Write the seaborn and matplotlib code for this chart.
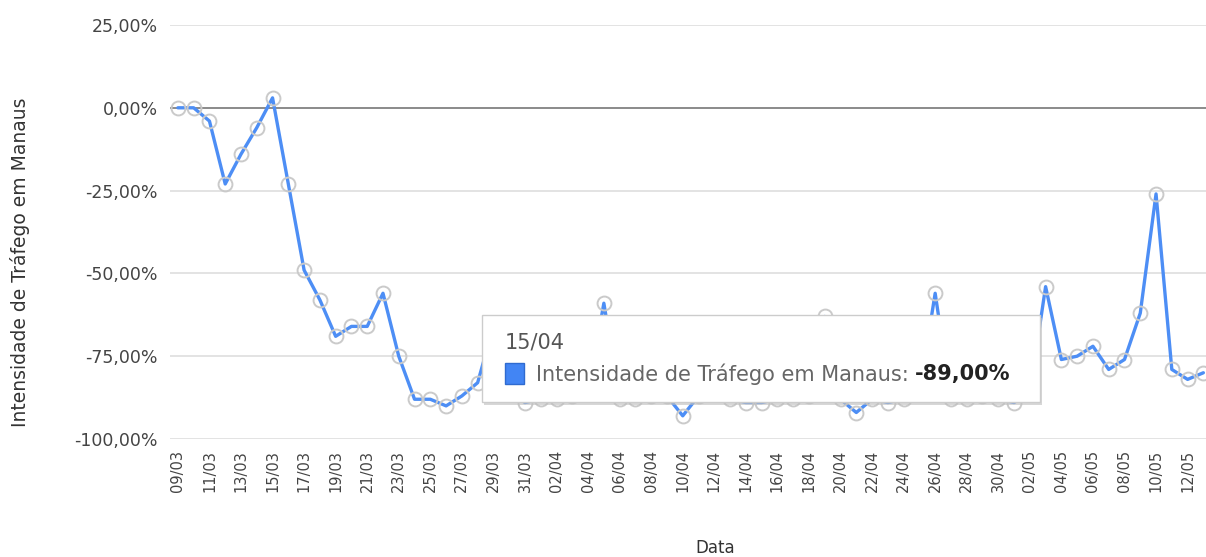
import pandas as pd
import seaborn as sns
import matplotlib.pyplot as plt
from matplotlib.patches import Rectangle
from matplotlib.text import Annotation
from matplotlib.ticker import FuncFormatter

# daily traffic intensity in Manaus, 09/03 .. 13/05
dates = pd.date_range("2020-03-09", "2020-05-13", freq="D")
values = [
    0, 0, -4, -23, -14, -6, 3, -23, -49, -58, -69, -66, -66, -56, -75,
    -88, -88, -90, -87, -83, -66, -86, -89,                       # .. 31/03
    -88, -88, -87, -86, -59, -88, -88, -87, -87, -93, -87, -70, -88, -89, -89,
    -88, -88, -87, -63, -88, -92, -88, -89, -88, -86, -56, -88, -88, -87, -88,  # .. 30/04
    -89, -86, -54, -76, -75, -72, -79, -76, -62, -26, -79, -82, -80,            # .. 13/05
]
y_ticks = [25, 0, -25, -50, -75, -100]
series_name = "Intensidade de Tráfego em Manaus"
tooltip_day = "15/04"

df = pd.DataFrame({"Data": dates, "valor": values})

sns.set_style("white")
plt.rcParams["font.family"] = ["DejaVu Sans"]

fig = plt.figure(figsize=(12.06, 5.57), dpi=100)
ax = fig.add_axes([170 / 1206, 1 - 439 / 557, 1036 / 1206, 414 / 557])

for t in y_ticks:
    if t == 0:
        ax.axhline(t, color="#8a8a8a", lw=1.4, zorder=1)
    else:
        ax.axhline(t, color="#e3e3e3", lw=1.4, zorder=1)

sns.lineplot(data=df, x="Data", y="valor", ax=ax, color="#4d8ef5", lw=2.4,
             marker="o", markersize=10, markerfacecolor="none",
             markeredgecolor="#cacaca", markeredgewidth=1.4, zorder=3)

ax.set_ylim(-100, 25)
ax.set_yticks(y_ticks)
ax.yaxis.set_major_formatter(FuncFormatter(lambda v, p: f"{v:.2f}%".replace(".", ",")))
ax.set_xlim(dates[0] - pd.Timedelta(hours=12), dates[-1] + pd.Timedelta(hours=4))
ax.set_xticks(dates[::2])
ax.set_xticklabels([d.strftime("%d/%m") for d in dates[::2]], rotation=90)

ax.tick_params(axis="y", length=0, pad=9, labelsize=12.5, labelcolor="#444444")
ax.tick_params(axis="x", length=0, pad=8, labelsize=10.5, labelcolor="#444444")
for s in ax.spines.values():
    s.set_visible(False)
ax.grid(False)

ax.set_xlabel("Data", fontsize=12, color="#333333")
ax.xaxis.set_label_coords(0.526, -0.263)
ax.xaxis.label.set_va("center")
ax.set_ylabel(series_name, fontsize=13.5, color="#333333")
ax.yaxis.set_label_coords(-0.145, 0.4275)
ax.yaxis.label.set_va("center")

# tooltip box
W, H = 1206, 557
x0, x1, ytop, ybot = 482, 1040, 315, 402
shadow = Rectangle(((x0 + 2) / W, 1 - (ybot + 3) / H), (x1 - x0) / W, (ybot - ytop) / H,
                   transform=fig.transFigure, facecolor="#bdbdbd", edgecolor="none",
                   alpha=0.6, zorder=5)
box = Rectangle((x0 / W, 1 - ybot / H), (x1 - x0) / W, (ybot - ytop) / H,
                transform=fig.transFigure, facecolor="white", edgecolor="#cccccc",
                lw=1, zorder=6)
swatch = Rectangle((505 / W, 1 - 384 / H), 19 / W, 21 / H, transform=fig.transFigure,
                   facecolor="#4285f4", edgecolor="#2f6bd0", lw=1, zorder=7)
fig.patches.extend([shadow, box, swatch])
fig.text(505 / W, 1 - 342 / H, tooltip_day, fontsize=15, color="#555555",
         va="center", ha="left", zorder=7)
tip_val = values[list(dates.strftime("%d/%m")).index(tooltip_day)]
t1 = fig.text(536 / W, 1 - 374 / H, series_name + ": ", fontsize=15, color="#666666",
              va="center", ha="left", zorder=7)
fig.add_artist(Annotation(f"{tip_val:.2f}%".replace(".", ","), xy=(1, 0.5), xycoords=t1,
                          va="center", ha="left", fontsize=15, fontweight="bold",
                          color="#222222", zorder=8))

plt.savefig("out.png", dpi=100)
